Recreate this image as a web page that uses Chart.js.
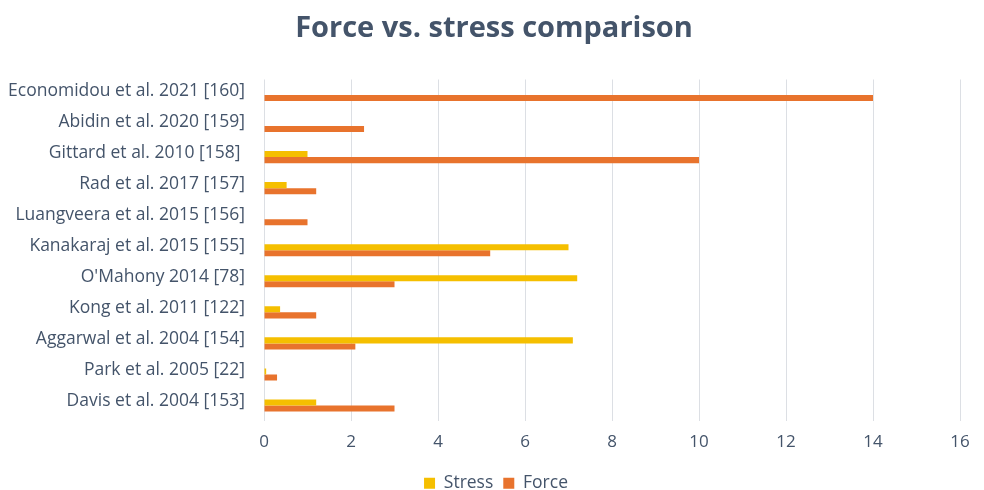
<!DOCTYPE html>
<html>
<head>
<meta charset="utf-8">
<script src="https://cdn.jsdelivr.net/npm/chart.js@4"></script>
<style>
  html, body { margin: 0; padding: 0; background: #ffffff; }
  #wrap { width: 984px; height: 490px; }
</style>
</head>
<body>
<div id="wrap"><canvas id="c" width="984" height="490"></canvas></div>
<script>
// Studies, listed top to bottom
const studies = [
  'Economidou et al. 2021 [160]',
  'Abidin et al. 2020 [159]',
  'Gittard et al. 2010 [158] ',
  'Rad et al. 2017 [157]',
  'Luangveera et al. 2015 [156]',
  'Kanakaraj et al. 2015 [155]',
  "O'Mahony 2014 [78]",
  'Kong et al. 2011 [122]',
  'Aggarwal et al. 2004 [154]',
  'Park et al. 2005 [22]',
  'Davis et al. 2004 [153]'
];
const stressValues = [0, 0, 1, 0.52, 0, 7, 7.2, 0.37, 7.1, 0.05, 1.2];
const forceValues  = [14, 2.3, 10, 1.2, 1, 5.2, 3, 1.2, 2.1, 0.3, 3];
const xTicks = [0, 2, 4, 6, 8, 10, 12, 14, 16];

const textColor = '#44546A';
const fontFamily = '"Open Sans", "Liberation Sans", sans-serif';

// Nudge the title and legend blocks after layout so they sit centred over the whole figure
const blockNudge = {
  id: 'blockNudge',
  afterLayout(chart) {
    const t = chart.titleBlock;
    if (t) { t.left += 14; t.right += 14; }
    const l = chart.legend;
    if (l) { l.left += 16; l.right += 16; l.top += 12; l.bottom += 12; }
  }
};

new Chart(document.getElementById('c'), {
  type: 'bar',
  data: {
    labels: studies,
    datasets: [
      { label: 'Stress', data: stressValues, backgroundColor: '#F5BF00', barPercentage: 1, categoryPercentage: 0.39 },
      { label: 'Force',  data: forceValues,  backgroundColor: '#E8732D', barPercentage: 1, categoryPercentage: 0.39 }
    ]
  },
  plugins: [blockNudge],
  options: {
    indexAxis: 'y',
    responsive: false,
    animation: false,
    layout: { padding: { left: 0, right: 24, top: 0, bottom: 0 } },
    plugins: {
      title: {
        display: true,
        text: 'Force vs. stress comparison',
        color: textColor,
        font: { family: fontFamily, size: 29, weight: 'bold' },
        padding: { top: 11, bottom: 33.7 }
      },
      legend: {
        position: 'bottom',
        labels: {
          color: textColor,
          font: { family: fontFamily, size: 17.5 },
          boxWidth: 11,
          boxHeight: 11,
          padding: 10
        }
      },
      tooltip: { enabled: false }
    },
    scales: {
      x: {
        min: 0,
        max: 16,
        afterBuildTicks: (scale) => { scale.ticks = xTicks.map(v => ({ value: v })); },
        grid: { color: '#DCDFE4', lineWidth: 1, drawTicks: false },
        border: { display: false },
        ticks: { color: textColor, font: { family: fontFamily, size: 17 }, padding: 11 },
        afterFit: (scale) => { scale.height = 31.5; }
      },
      y: {
        grid: { display: false },
        border: { display: false },
        ticks: { color: textColor, font: { family: fontFamily, size: 17.5 }, padding: 11, labelOffset: -4, autoSkip: false },
        afterFit: (scale) => { scale.width = 264; }
      }
    }
  }
});
</script>
</body>
</html>
